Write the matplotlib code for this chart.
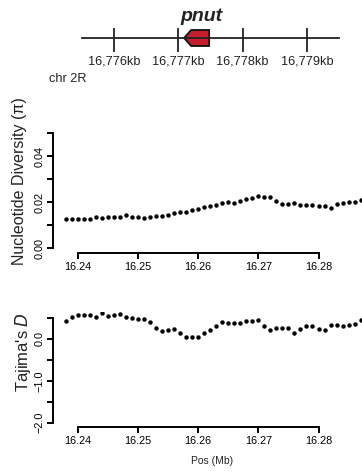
import matplotlib
matplotlib.use('Agg')
import matplotlib.pyplot as plt
from matplotlib.patches import Polygon

plt.rcParams['font.family'] = ['Liberation Sans', 'DejaVu Sans']

# --- data ---
gene_name = 'pnut'
chrom_label = 'chr 2R'
gene_start_kb = 16777.09
gene_end_kb = 16777.48
track_ticks_kb = [16776, 16777, 16778, 16779]
track_range_kb = [16775.5, 16779.5]

pos_mb = [16.238 + 0.001 * i for i in range(50)]
pi_vals = [0.0126, 0.0127, 0.0127, 0.0127, 0.0129, 0.0136, 0.0133, 0.0136, 0.0138, 0.0138,
           0.0145, 0.0136, 0.0135, 0.0130, 0.0135, 0.0139, 0.0141, 0.0146, 0.0155, 0.0159,
           0.0158, 0.0167, 0.0172, 0.0180, 0.0183, 0.0187, 0.0196, 0.0201, 0.0198, 0.0206,
           0.0216, 0.0217, 0.0226, 0.0223, 0.0222, 0.0207, 0.0191, 0.0194, 0.0197, 0.0190,
           0.0187, 0.0187, 0.0185, 0.0184, 0.0177, 0.0194, 0.0196, 0.0203, 0.0200, 0.0209]
tajd_vals = [0.44, 0.53, 0.57, 0.57, 0.57, 0.53, 0.62, 0.56, 0.57, 0.59,
             0.52, 0.51, 0.49, 0.47, 0.41, 0.27, 0.18, 0.21, 0.23, 0.14,
             0.05, 0.04, 0.04, 0.14, 0.22, 0.32, 0.41, 0.39, 0.39, 0.39,
             0.43, 0.43, 0.45, 0.30, 0.22, 0.26, 0.26, 0.26, 0.14, 0.23,
             0.32, 0.30, 0.24, 0.22, 0.33, 0.33, 0.31, 0.33, 0.36, 0.45]
x_ticks = [16.24, 16.25, 16.26, 16.27, 16.28]
pi_ticks = [0.00, 0.01, 0.02, 0.03, 0.04, 0.05]
pi_labels = ['0.00', '', '0.02', '', '0.04', '']
tajd_ticks = [-2.0, -1.5, -1.0, -0.5, 0.0, 0.5]
tajd_labels = ['\u22122.0', '', '\u22121.0', '', '0.0', '']

W, H = 362, 472
fig = plt.figure(figsize=(W / 100, H / 100), dpi=100)


def px_axes(l, t, r, b):
    return fig.add_axes([l / W, 1 - b / H, (r - l) / W, (b - t) / H])


# --- gene track ---
axg = px_axes(0, 0, W, 90)
axg.set_xlim(16776 - 114 / 64.3, 16776 + (W - 114) / 64.3)
axg.set_ylim(90, 0)
axg.axis('off')
axg.plot(track_range_kb, [38.3, 38.3], color='#222222', lw=1.3)
for t in track_ticks_kb:
    axg.plot([t, t], [29.3, 50.7], color='#222222', lw=1.3)
    axg.text(t, 61.5, f'{t // 1000},{t % 1000:03d}kb', ha='center', va='center', fontsize=9.2, color='#222222')
shoulder = gene_start_kb + 0.11
gene = Polygon([(gene_start_kb, 38.0), (shoulder, 30.0), (gene_end_kb, 30.0),
                (gene_end_kb, 46.0), (shoulder, 46.0)], closed=True,
               facecolor='#C41E2E', edgecolor='#111111', lw=1.3)
axg.add_patch(gene)
axg.text(gene_end_kb - 0.12, 16.5, gene_name, ha='center', va='center',
         fontsize=14, fontweight='bold', style='italic', color='#222222')
axg.text(16776 - 65 / 64.3, 79, chrom_label, ha='left', va='center', fontsize=9.2, color='#222222')


def style_axes(ax, ymin, ymax, xout, yout):
    for s in ['top', 'right']:
        ax.spines[s].set_visible(False)
    ax.spines['left'].set_position(('outward', yout))
    ax.spines['bottom'].set_position(('outward', xout))
    ax.spines['left'].set_bounds(ymin, ymax)
    ax.spines['bottom'].set_bounds(x_ticks[0], x_ticks[-1])
    for s in ['left', 'bottom']:
        ax.spines[s].set_linewidth(1.4)
    ax.tick_params(length=4.5, width=1.4, labelsize=7.8, pad=2)
    ax.set_xticks(x_ticks)
    ax.set_xticklabels([f'{v:.2f}' for v in x_ticks])
    for lab in ax.get_yticklabels():
        lab.set_rotation(90)
        lab.set_va('center')


x0 = 16.24 + (60 - 77.7) / 6020
x1 = 16.24 + (380 - 77.7) / 6020

# --- nucleotide diversity ---
ax1 = px_axes(60, 128, 380, 250)
ax1.plot(pos_mb, pi_vals, 'o', color='black', ms=3.2, mew=0)
ax1.set_xlim(x0, x1)
ax1.set_ylim((248.3 - 250) / 2300, (248.3 - 128) / 2300)
ax1.set_yticks(pi_ticks)
ax1.set_yticklabels(pi_labels)
style_axes(ax1, 0.0, 0.05, 2.4, 4.8)
fig.text(20 / W, 1 - 180.7 / H, 'Nucleotide Diversity (\u03c0)', rotation=90,
         ha='center', va='center', fontsize=11.5, color='#222222')

# --- Tajima's D ---
ax2 = px_axes(60, 312, 380, 423)
ax2.plot(pos_mb, tajd_vals, 'o', color='black', ms=3.2, mew=0)
ax2.set_xlim(x0, x1)
ax2.set_ylim((339 - 423) / 41.8, (339 - 312) / 41.8)
ax2.set_yticks(tajd_ticks)
ax2.set_yticklabels(tajd_labels)
style_axes(ax2, -2.0, 0.5, 2.7, 4.8)
fig.text(23 / W, 1 - 351.7 / H, "Tajima's $\\it{D}$", rotation=90,
         ha='center', va='center', fontsize=12, color='#222222')
fig.text(212 / W, 1 - 461.5 / H, 'Pos (Mb)', ha='center', va='center', fontsize=7.5, color='#222222')

fig.savefig('out.png', dpi=100)
